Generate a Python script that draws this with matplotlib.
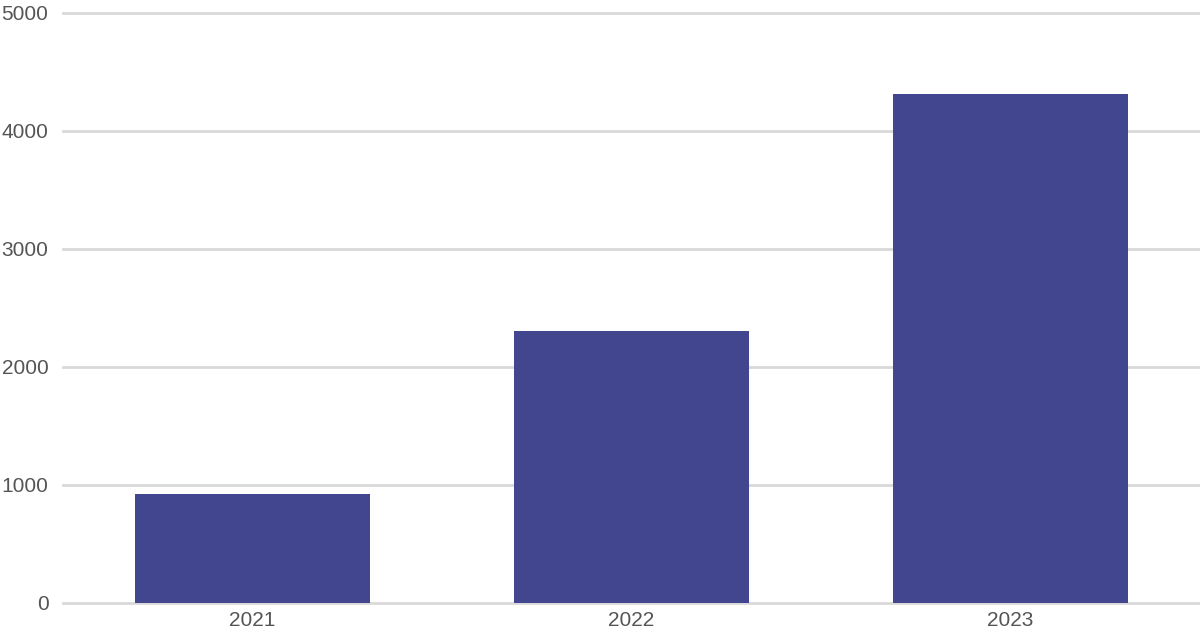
import matplotlib.pyplot as plt

# data
years = ["2021", "2022", "2023"]
values = [926, 2305, 4315]
yticks = [0, 1000, 2000, 3000, 4000, 5000]

plt.rcParams['font.family'] = ['Liberation Sans', 'DejaVu Sans']

fig = plt.figure(figsize=(12, 6.31), dpi=100)
ax = fig.add_axes([63/1200, 28/631, 1 - 63/1200, (603 - 13)/631])

x = list(range(len(years)))
ax.bar(x, values, width=0.62, color='#42468e', zorder=3)

ax.set_xlim(-0.5, len(years) - 0.5)
ax.set_ylim(0, 5000)
ax.set_yticks(yticks)
ax.set_yticklabels([str(t) for t in yticks])
ax.set_xticks(x)
ax.set_xticklabels(years)

ax.grid(axis='y', color='#d9d9d9', linewidth=2, zorder=0)
ax.set_axisbelow(True)
for s in ax.spines.values():
    s.set_visible(False)
# don't cut the top and bottom grid lines in half
for gl in ax.get_ygridlines():
    gl.set_clip_on(False)

# pads are in points (100 dpi -> 1pt = 1.39px)
ax.tick_params(axis='both', length=0, labelsize=15, labelcolor='#555555')
ax.tick_params(axis='y', pad=10.5)
ax.tick_params(axis='x', pad=6)

fig.savefig('out.png', dpi=100)
